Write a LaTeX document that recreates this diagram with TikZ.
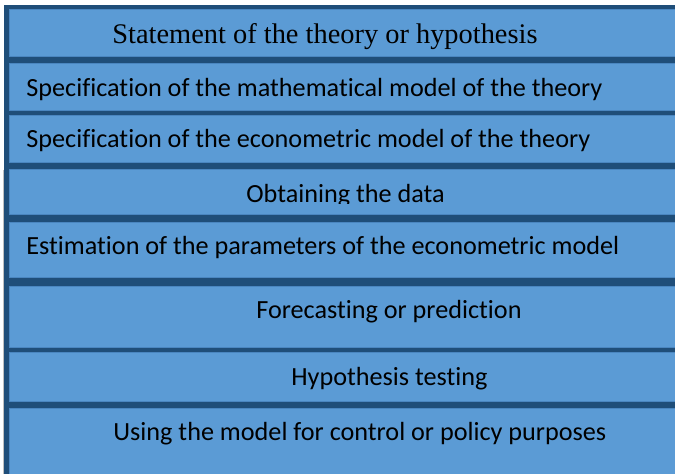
\documentclass[tikz,border=0pt]{standalone}
\usepackage{fontspec}
\setmainfont{Carlito}[Ligatures=CommonOff]
\newfontfamily\timesf{Liberation Serif}
\definecolor{lightb}{HTML}{5B9BD5}
\definecolor{darkb}{HTML}{1F4E79}
\definecolor{edgeb}{HTML}{4A86C0}
\begin{document}
\begin{tikzpicture}[x=0.5pt,y=-0.5pt,
  band/.style={fill=lightb,draw=edgeb,line width=0.4pt},
  lbl/.style={anchor=base west,inner sep=0pt,font=\fontsize{13.1}{15}\selectfont,text=black}]
\useasboundingbox (0,0) rectangle (675,474);
\fill[white] (0,0) rectangle (675,474);
\draw[gray!50,line width=0.5pt] (3.5,170) -- (3.5,474);
\fill[darkb] (4,5.5) rectangle (676,474);
\path[band] (9,9) rectangle (676,56);
\path[band] (9,63) rectangle (676,110);
\path[band] (9,115) rectangle (676,162);
\path[band] (9,169) rectangle (676,214);
\path[band] (9,222) rectangle (676,277);
\path[band] (9,286) rectangle (676,347);
\path[band] (9,352) rectangle (676,401);
\path[band] (9,408) rectangle (676,476);
\node[lbl,font=\timesf\fontsize{14.2}{16}\selectfont] (t1) at (112,44) {Statement of the theory or hypothesis};
\node[lbl] (t2) at (26,97) {Specification of the mathematical model of the theory};
\node[lbl] (t3) at (26,148) {Specification of the econometric model of the theory};
\begin{scope}
\clip (0,169) rectangle (675,204);
\node[lbl] (t4) at (246,203) {Obtaining the data};
\end{scope}
\node[lbl] (t5) at (26,255) {Estimation of the parameters of the econometric model};
\node[lbl] (t6) at (256,319) {Forecasting or prediction};
\node[lbl] (t7) at (291,386) {Hypothesis testing};
\node[lbl] (t8) at (113,441) {Using the model for control or policy purposes};
\end{tikzpicture}
\end{document}
